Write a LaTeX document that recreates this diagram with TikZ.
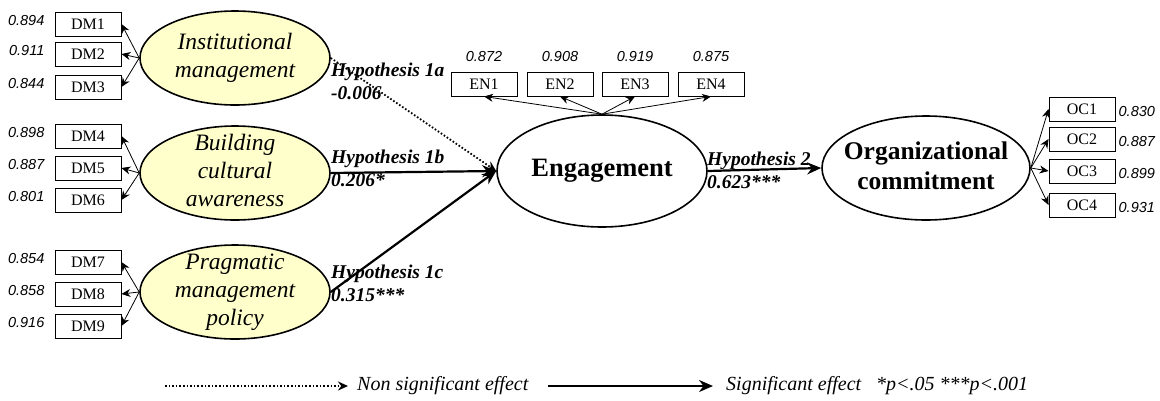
\documentclass[tikz,border=0pt]{standalone}
\usepackage{fontspec}
\setmainfont{Liberation Serif}
\setsansfont{Liberation Sans}
\usepackage{tikz}
\usetikzlibrary{arrows.meta,shapes,positioning}
\usepackage{xcolor}
\definecolor{semyellow}{RGB}{255,255,204}
\tikzstyle{indicator} = [rectangle, draw, line width=0.9pt, minimum width=66pt, minimum height=24pt, inner sep=0pt, font=\fontsize{16}{18}\selectfont]
\tikzstyle{construct} = [ellipse, draw, line width=1.6pt, fill=semyellow, minimum width=190pt, minimum height=94pt, inner sep=0pt, font=\fontsize{23.5}{28}\selectfont\itshape]
\tikzstyle{outcome} = [ellipse, draw, line width=1.6pt, minimum width=210pt, minimum height=112pt, inner sep=0pt, font=\fontsize{26.5}{30}\selectfont\bfseries]
\tikzstyle{loading} = [-{Stealth[length=9pt,width=8pt]}, line width=0.8pt]
\tikzstyle{sigeffect} = [-{Stealth[length=14pt,width=12pt]}, line width=2.2pt]
\tikzstyle{noneffect} = [-{Stealth[length=10pt,width=9pt]}, line width=1.8pt, dash pattern=on 1.6pt off 2pt]
\tikzstyle{coef} = [inner sep=1pt, font=\fontsize{14.5}{16}\selectfont\sffamily\itshape]
\tikzstyle{hyp} = [anchor=west, align=left, inner sep=1pt, font=\fontsize{19.5}{23}\selectfont\bfseries\itshape]
\tikzstyle{legend} = [anchor=west, inner sep=1pt, font=\fontsize{20}{22}\selectfont\itshape]
\newcommand{\lattext}[1]{\smash{\makebox[0pt]{\raisebox{-.25em}{\begin{tabular}{@{}c@{}}#1\end{tabular}}}}}

\begin{document}
\begin{tikzpicture}[x=1pt, y=-1pt]
    \useasboundingbox (0,0) rectangle (1160,400);

    % Indicators of the three dimensions
    \node[indicator] (dm1) at (88,24) {DM1};
    \node[indicator] (dm2) at (88,54) {DM2};
    \node[indicator] (dm3) at (88,87) {DM3};
    \node[indicator] (dm4) at (88,136) {DM4};
    \node[indicator] (dm5) at (88,168) {DM5};
    \node[indicator] (dm6) at (88,200) {DM6};
    \node[indicator] (dm7) at (88,262) {DM7};
    \node[indicator] (dm8) at (88,294) {DM8};
    \node[indicator] (dm9) at (88,326) {DM9};

    % Loadings
    \node[coef, left=9pt of dm1, yshift=3pt] {0.894};
    \node[coef, left=9pt of dm2, yshift=3pt] {0.911};
    \node[coef, left=9pt of dm3, yshift=3pt] {0.844};
    \node[coef, left=9pt of dm4, yshift=3pt] {0.898};
    \node[coef, left=9pt of dm5, yshift=3pt] {0.887};
    \node[coef, left=9pt of dm6, yshift=3pt] {0.801};
    \node[coef, left=9pt of dm7, yshift=3pt] {0.854};
    \node[coef, left=9pt of dm8, yshift=3pt] {0.858};
    \node[coef, left=9pt of dm9, yshift=3pt] {0.916};

    % Constructs
    \node[construct] (im) at (235,58) {\lattext{Institutional\\management}};
    \node[construct] (bca) at (235,173) {\lattext{Building\\cultural\\awareness}};
    \node[construct] (pmp) at (235,292) {\lattext{Pragmatic\\management\\policy}};
    \node[outcome] (eng) at (602,171) {Engagement};
    \node[outcome, minimum width=208pt, minimum height=104pt, font=\fontsize{25.5}{30}\selectfont\bfseries] (oc) at (926,168) {\lattext{Organizational\\commitment}};

    % Engagement indicators
    \node[indicator] (en1) at (484,84) {EN1};
    \node[indicator] (en2) at (560,84) {EN2};
    \node[indicator] (en3) at (635,84) {EN3};
    \node[indicator] (en4) at (711,84) {EN4};
    \node[coef, above=9pt of en1] {0.872};
    \node[coef, above=9pt of en2] {0.908};
    \node[coef, above=9pt of en3] {0.919};
    \node[coef, above=9pt of en4] {0.875};

    % Commitment indicators
    \node[indicator] (oc1) at (1082,109) {OC1};
    \node[indicator] (oc2) at (1082,139) {OC2};
    \node[indicator] (oc3) at (1082,171) {OC3};
    \node[indicator] (oc4) at (1082,205) {OC4};
    \node[coef, right=2pt of oc1, yshift=-3pt] {0.830};
    \node[coef, right=2pt of oc2, yshift=-3pt] {0.887};
    \node[coef, right=2pt of oc3, yshift=-3pt] {0.899};
    \node[coef, right=2pt of oc4, yshift=-3pt] {0.931};

    % Loading arrows
    \draw[loading] (im.west) -- (dm1.east);
    \draw[loading] (im.west) -- (dm2.east);
    \draw[loading] (im.west) -- (dm3.east);
    \draw[loading] (bca.west) -- (dm4.east);
    \draw[loading] (bca.west) -- (dm5.east);
    \draw[loading] (bca.west) -- (dm6.east);
    \draw[loading] (pmp.west) -- (dm7.east);
    \draw[loading] (pmp.west) -- (dm8.east);
    \draw[loading] (pmp.west) -- (dm9.east);
    \draw[loading] (eng.north) -- (en1.south);
    \draw[loading] (eng.north) -- (en2.south);
    \draw[loading] (eng.north) -- (en3.south);
    \draw[loading] (eng.north) -- (en4.south);
    \draw[loading] (oc.east) -- (oc1.west);
    \draw[loading] (oc.east) -- (oc2.west);
    \draw[loading] (oc.east) -- (oc3.west);
    \draw[loading] (oc.east) -- (oc4.west);

    % Hypothesised paths
    \draw[noneffect] (im.east) -- (eng.west);
    \draw[sigeffect] (bca.east) -- (eng.west);
    \draw[sigeffect] (pmp.east) -- (eng.west);
    \draw[sigeffect] (eng.east) -- (oc.west);
    \node[hyp] (h1a) at (330,81) {Hypothesis 1a\\-0.006};
    \node[hyp] (h1b) at (330,168) {Hypothesis 1b\\0.206*};
    \node[hyp] (h1c) at (330,283) {Hypothesis 1c\\0.315***};
    \node[hyp] (h2) at (706,170) {Hypothesis 2\\0.623***};

    % Legend
    \coordinate (ns0) at (165,386);
    \coordinate (ns1) at (348,386);
    \coordinate (se0) at (548,386);
    \coordinate (se1) at (713,386);
    \draw[noneffect] (ns0) -- (ns1);
    \draw[sigeffect] (se0) -- (se1);
    \node[legend] (nslab) at (356,386) {Non significant effect};
    \node[legend] (selab) at (725,386) {Significant effect \ \ *p<.05 ***p<.001};
\end{tikzpicture}
\end{document}
